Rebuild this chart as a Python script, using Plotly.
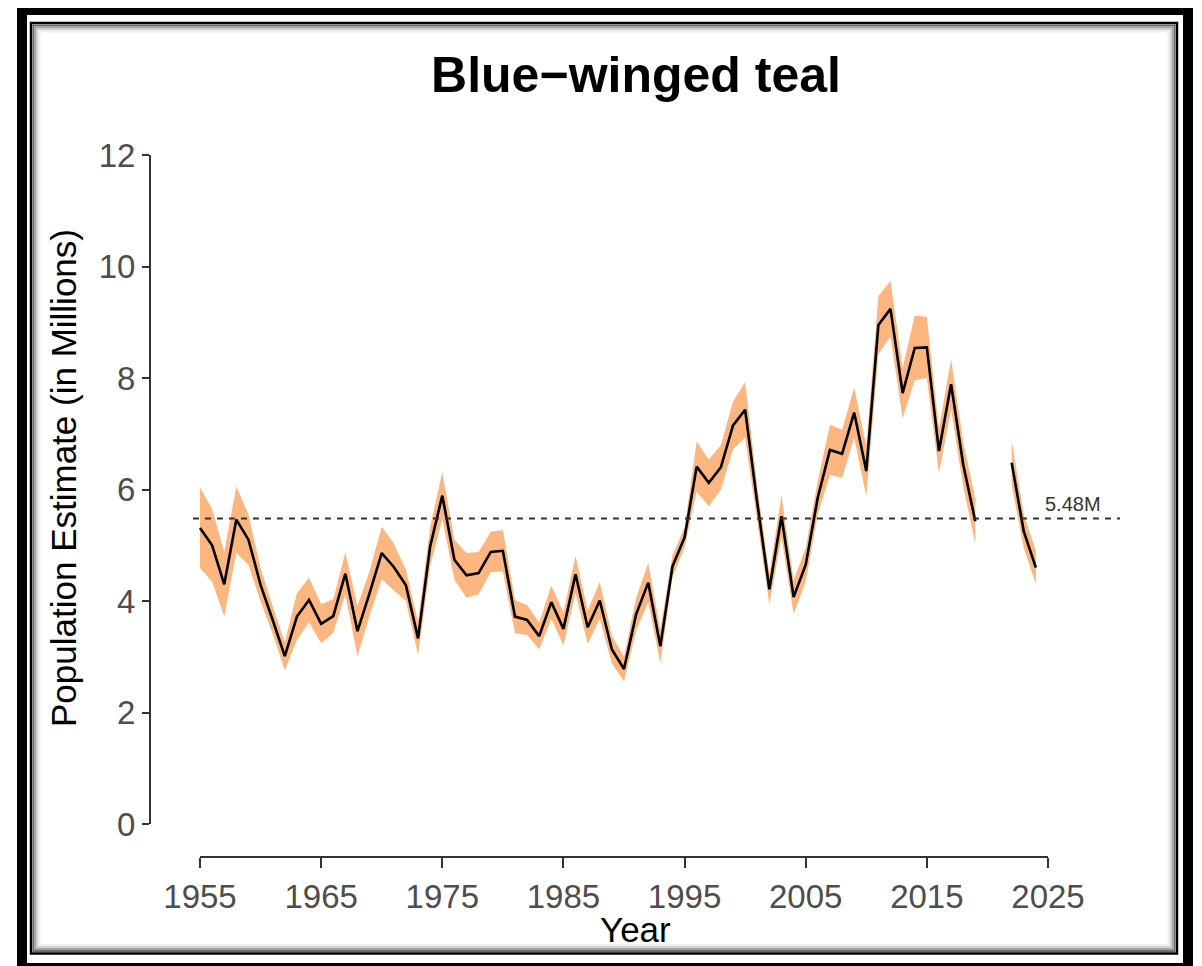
import plotly.graph_objects as go

# ---- data (millions) ----
years = list(range(1955, 2025))
estimate = [
    5.31, 5.00, 4.30, 5.46, 5.10, 4.29, 3.66, 3.01, 3.72, 4.02,   # 1955-1964
    3.59, 3.73, 4.49, 3.46, 4.14, 4.86, 4.61, 4.28, 3.33, 4.98,   # 1965-1974
    5.89, 4.74, 4.46, 4.50, 4.88, 4.90, 3.72, 3.66, 3.37, 3.98,   # 1975-1984
    3.50, 4.48, 3.53, 4.01, 3.13, 2.78, 3.76, 4.33, 3.19, 4.62,   # 1985-1994
    5.14, 6.41, 6.12, 6.40, 7.15, 7.43, 5.76, 4.21, 5.52, 4.07,   # 1995-2004
    4.65, 5.86, 6.71, 6.64, 7.38, 6.33, 8.95, 9.24, 7.73, 8.54,   # 2005-2014
    8.55, 6.69, 7.89, 6.45, 5.43, None, None, 6.48, 5.25, 4.60,   # 2015-2024
]
ci_half = [
    0.72, 0.65, 0.58, 0.60, 0.45, 0.30, 0.25, 0.25, 0.42, 0.40,
    0.35, 0.30, 0.38, 0.45, 0.40, 0.47, 0.42, 0.28, 0.30, 0.35,
    0.42, 0.36, 0.40, 0.38, 0.36, 0.37, 0.30, 0.27, 0.24, 0.30,
    0.30, 0.33, 0.30, 0.33, 0.25, 0.22, 0.30, 0.35, 0.30, 0.20,
    0.18, 0.45, 0.42, 0.40, 0.43, 0.50, 0.30, 0.27, 0.38, 0.30,
    0.30, 0.30, 0.45, 0.43, 0.45, 0.45, 0.52, 0.50, 0.45, 0.58,
    0.55, 0.40, 0.45, 0.40, 0.40, None, None, 0.40, 0.30, 0.30,
]
long_term_avg = 5.48
x_ticks = [1955, 1965, 1975, 1985, 1995, 2005, 2015, 2025]
y_ticks = [0, 2, 4, 6, 8, 10, 12]

FONT = "Arial, Liberation Sans, sans-serif"
W, H = 1202, 966
OFF = 8                              # browser body margin
L, R, T, B = 150, 1120, 140, 857     # plot-area pixel box (page coords)

def px(xp):
    return (xp - L) / (R - L)

def py(yp):
    return (B - yp) / (B - T)

fig = go.Figure()

# confidence band per contiguous segment
segments, cur = [], []
for yr, e, h in zip(years, estimate, ci_half):
    if e is None:
        if cur:
            segments.append(cur)
        cur = []
    else:
        cur.append((yr, e, h))
if cur:
    segments.append(cur)

for seg in segments:
    xs = [s[0] for s in seg]
    up = [s[1] + s[2] for s in seg]
    lo = [s[1] - s[2] for s in seg]
    fig.add_trace(go.Scatter(
        x=xs + xs[::-1], y=up + lo[::-1], fill="toself",
        fillcolor="#FDB680", line=dict(width=0, color="#FDB680"),
        mode="lines", hoverinfo="skip", showlegend=False))

fig.add_trace(go.Scatter(
    x=years, y=estimate, mode="lines", connectgaps=False,
    line=dict(color="black", width=2.6), showlegend=False))

x0 = 1955 - 50 / 12.114
x1 = 2025 + (R - 1048) / 12.114
ppu = (824 - 155) / 12
y0 = -(B - 824) / ppu
y1 = 12 + (155 - T) / ppu

fig.update_xaxes(
    range=[x0, x1], tickvals=x_ticks, ticktext=[str(v) for v in x_ticks],
    showgrid=False, zeroline=False, showline=False,
    ticks="outside", ticklen=10, tickwidth=2, tickcolor="#333333",
    tickfont=dict(family=FONT, size=33, color="#4D4D4D"))
fig.update_yaxes(
    range=[y0, y1], tickvals=y_ticks, ticktext=[str(v) for v in y_ticks],
    showgrid=False, zeroline=False, showline=False,
    ticks="outside", ticklen=7, tickwidth=2, tickcolor="#333333",
    tickfont=dict(family=FONT, size=33, color="#4D4D4D"))

shapes = []
# axis lines (range-frame)
shapes.append(dict(type="line", xref="paper", yref="y", x0=0, x1=0, y0=0, y1=12,
                   line=dict(color="#333333", width=2)))
shapes.append(dict(type="line", xref="x", yref="paper", x0=1955, x1=2025, y0=0, y1=0,
                   line=dict(color="#333333", width=2)))
# long-term average
shapes.append(dict(type="line", xref="x", yref="y", x0=1954.42, x1=x1,
                   y0=long_term_avg, y1=long_term_avg,
                   line=dict(color="#333333", width=2, dash="6px,6px")))
# frames
def rect(l, t, r, b, color, width):
    return dict(type="rect", xref="paper", yref="paper",
                x0=px(l), x1=px(r), y0=py(b), y1=py(t),
                line=dict(color=color, width=width), fillcolor="rgba(0,0,0,0)", layer="above")

shapes.append(rect(22, 10, 1188, 968, "black", 10))
shapes.append(rect(31, 23, 1177, 953.5, "black", 2.5))
for off, col in [(2.5, "#6a6a6a"), (4.5, "#a5a5a5"), (6.5, "#d2d2d2"), (8.5, "#efefef")]:
    shapes.append(rect(31 + off, 23 + off, 1177 - off, 953.5 - off, col, 2))

annotations = [
    dict(text="5.48M", xref="x", yref="y", x=2024.55, y=long_term_avg,
         xanchor="left", yanchor="bottom", showarrow=False, yshift=1,
         font=dict(family=FONT, size=20, color="#333333")),
    dict(text="Population Estimate (in Millions)", xref="paper", yref="paper",
         x=px(63), y=py(478), textangle=-90, showarrow=False,
         xanchor="center", yanchor="middle",
         font=dict(family=FONT, size=35, color="black")),
    dict(text="Year", xref="paper", yref="paper", x=px(635), y=py(929),
         showarrow=False, xanchor="center", yanchor="middle",
         font=dict(family=FONT, size=35, color="black")),
]

fig.update_layout(
    width=W - OFF, height=H - OFF,
    margin=dict(l=L - OFF, r=W - R, t=T - OFF, b=H - B, pad=0),
    paper_bgcolor="white", plot_bgcolor="white",
    title=dict(text="<b>Blue\u2212winged teal</b>", x=px(636), xref="paper",
               y=1 - (74 - OFF) / (H - OFF), yref="container",
               xanchor="center", yanchor="middle",
               font=dict(family=FONT, size=50, color="black")),
    shapes=shapes, annotations=annotations,
)

fig.write_html("out.html")
